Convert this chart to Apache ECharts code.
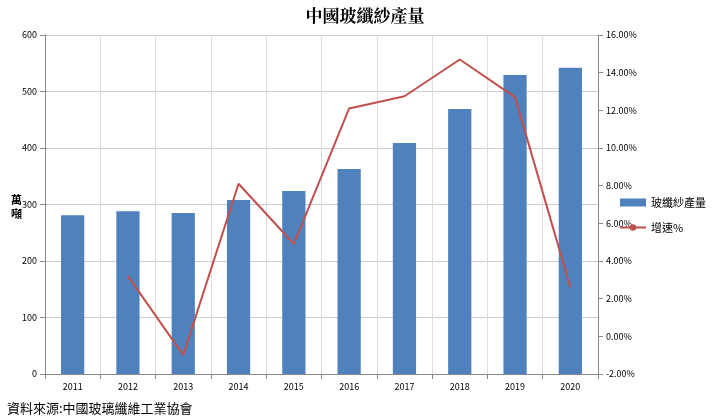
<!DOCTYPE html>
<html><head><meta charset="utf-8">
<script src="https://cdn.jsdelivr.net/npm/echarts@6/dist/echarts.min.js"></script>
<style>body{margin:0;background:#fff}#main{width:720px;height:420px}</style>
</head><body><div id="main"></div>
<script>
var years = ['2011','2012','2013','2014','2015','2016','2017','2018','2019','2020'];
var output = [281, 288, 285, 308, 324, 363, 409, 469, 529, 542];
var growth = [null, 3.2, -1.0, 8.1, 4.9, 12.1, 12.75, 14.7, 12.7, 2.6];

var chart = echarts.init(document.getElementById('main'));
chart.setOption({
	animation: false,
	textStyle: {fontFamily: 'Noto Sans CJK TC'},
	title: [{
		text: '中國玻纖紗產量', left: 360, top: 2, textAlign: 'center',
		textStyle: {fontSize: 17, fontWeight: 'bold', color: '#000', fontFamily: 'Noto Serif CJK TC, Noto Sans CJK TC'}
	}, {
		text: '資料來源:中國玻璃纖維工業協會', left: 2, top: 397,
		textStyle: {fontSize: 13, fontWeight: 'normal', color: '#000'}
	}, {
		text: '萬\n噸', left: 6, top: 188,
		textStyle: {fontSize: 11, fontWeight: 'bold', color: '#000', lineHeight: 14}
	}],
	legend: {
		orient: 'vertical', left: 614, top: 192, itemGap: 14, itemWidth: 26, itemHeight: 8,
		textStyle: {fontSize: 11, color: '#000'},
		data: [{name: '玻纖紗產量', icon: 'rect'}, {name: '增速%'}]
	},
	grid: {left: 45, right: 122, top: 35, bottom: 46},
	xAxis: {
		type: 'category', data: years,
		axisLine: {lineStyle: {color: '#888'}},
		axisTick: {show: true, lineStyle: {color: '#888'}},
		splitLine: {show: true, lineStyle: {color: '#ddd'}},
		axisLabel: {fontSize: 9, color: '#000'}
	},
	yAxis: [{
		type: 'value', min: 0, max: 600, interval: 100,
		axisLine: {show: true, lineStyle: {color: '#888'}},
		axisTick: {show: true},
		splitLine: {lineStyle: {color: '#ccc'}},
		axisLabel: {fontSize: 9, color: '#000'}
	}, {
		type: 'value', min: -2, max: 16, interval: 2,
		axisLine: {show: true, lineStyle: {color: '#888'}},
		axisTick: {show: true},
		splitLine: {show: false},
		axisLabel: {fontSize: 9, color: '#000', formatter: function (v) { return v.toFixed(2) + '%'; }}
	}],
	series: [{
		name: '玻纖紗產量', type: 'bar', data: output, barWidth: '42%',
		itemStyle: {color: '#4f81bd'}
	}, {
		name: '增速%', type: 'line', yAxisIndex: 1, data: growth,
		symbol: 'none', lineStyle: {color: '#c0504d', width: 2},
		itemStyle: {color: '#c0504d'}
	}]
});
</script>
</body></html>
